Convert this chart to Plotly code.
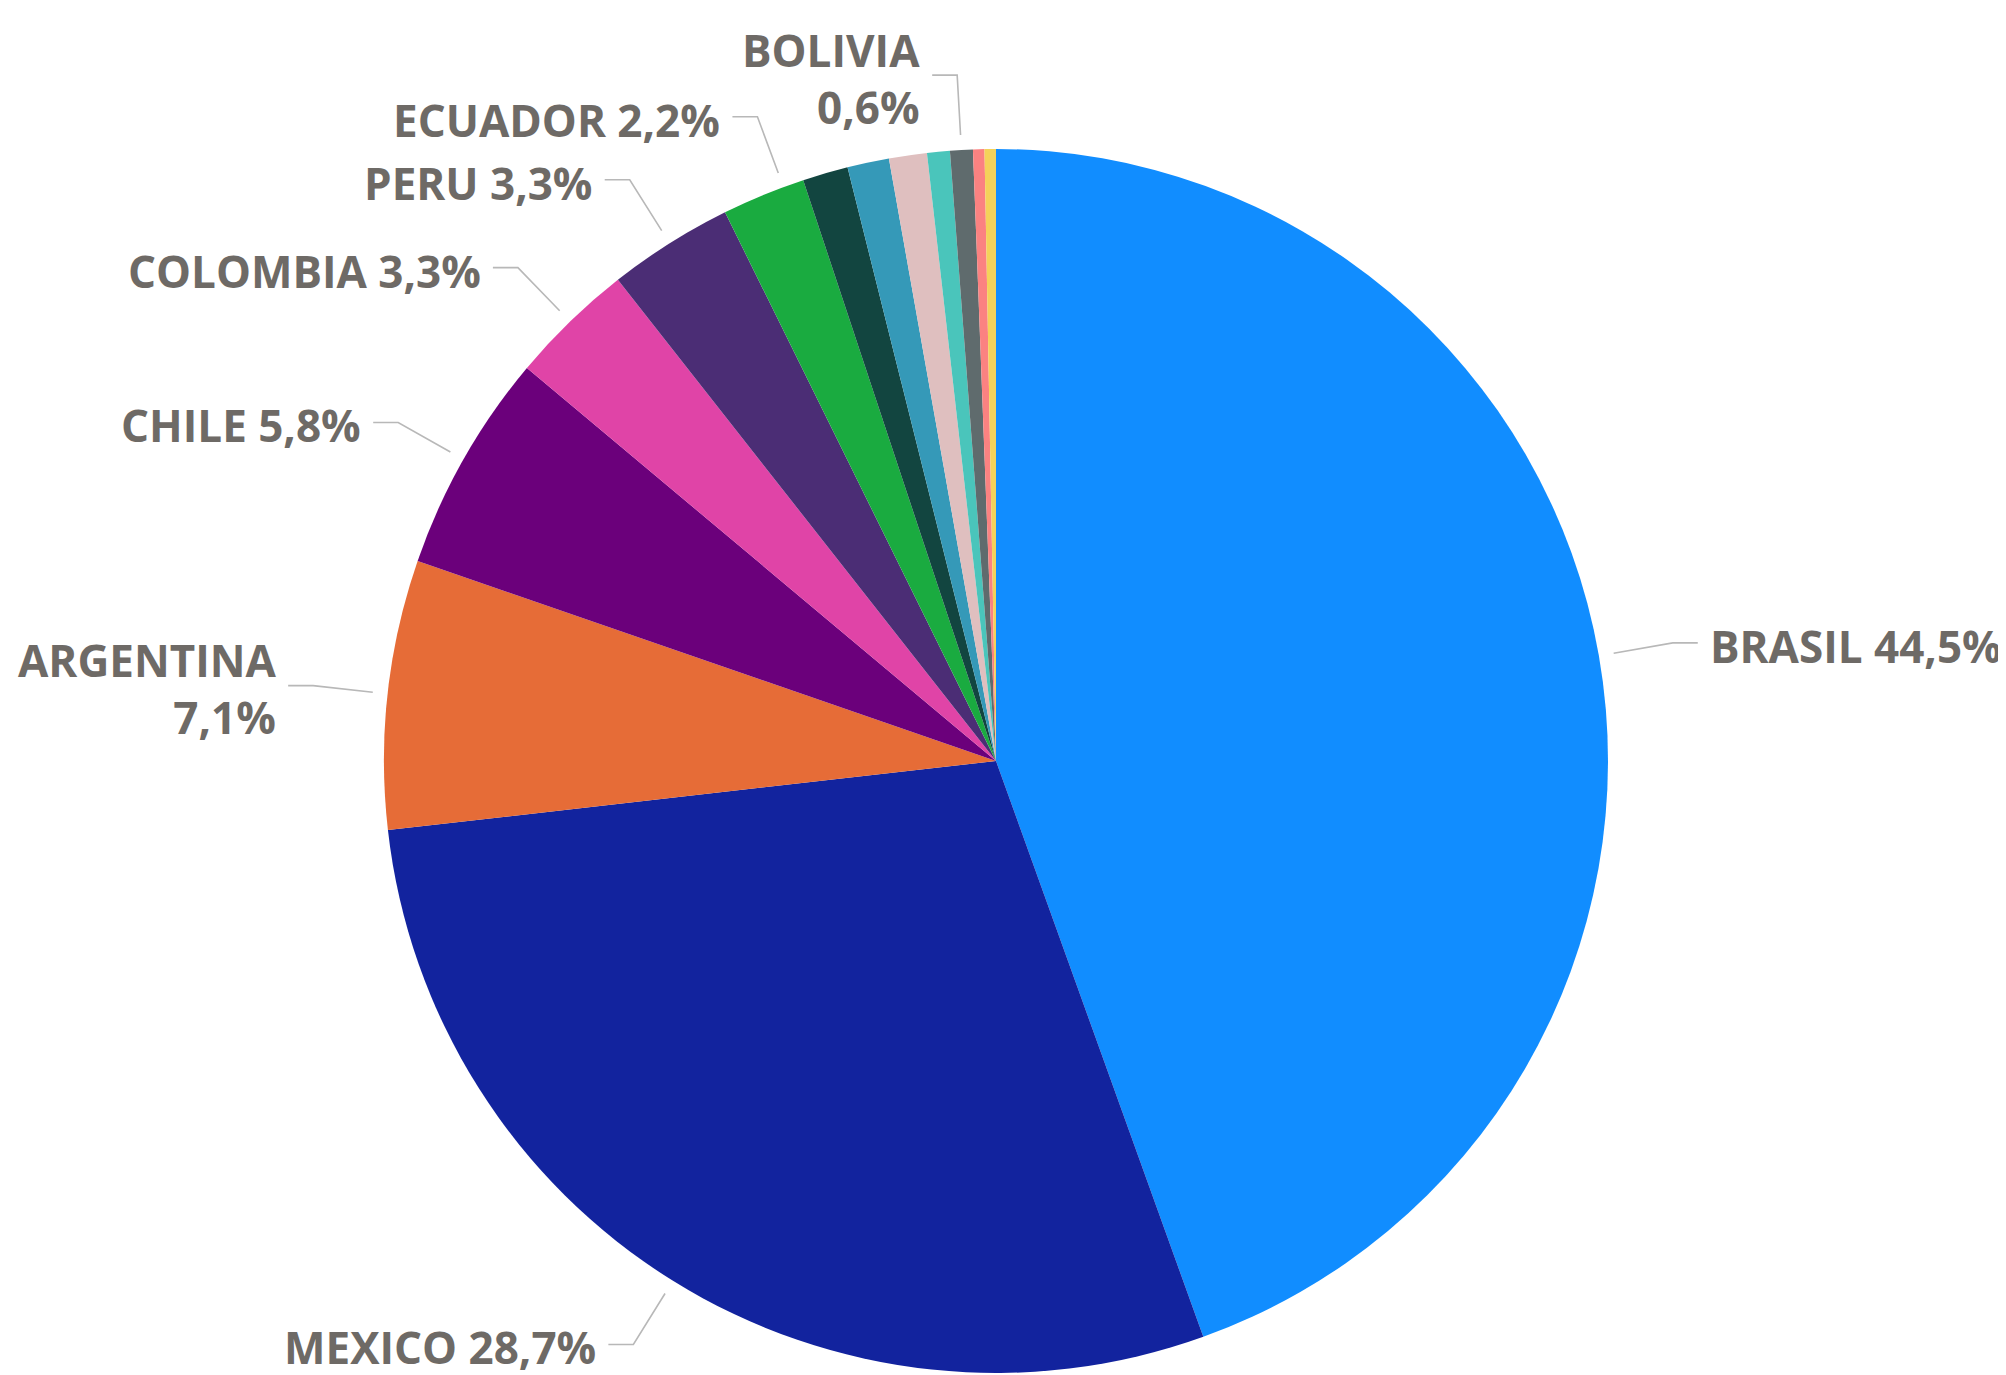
import math
import plotly.graph_objects as go

# Market share by country (%), clockwise from 12 o'clock
COUNTRIES = ['BRASIL', 'MEXICO', 'ARGENTINA', 'CHILE', 'COLOMBIA', 'PERU', 'ECUADOR',
             'URUGUAY', 'PANAMA', 'COSTA RICA', 'PARAGUAY', 'BOLIVIA', 'GUATEMALA', 'OTROS']
SHARE = [44.5, 28.7, 7.1, 5.8, 3.3, 3.3, 2.2, 1.2, 1.1, 1.0, 0.6, 0.6, 0.3, 0.3]
LABELED = ['BRASIL', 'MEXICO', 'ARGENTINA', 'CHILE', 'COLOMBIA', 'PERU', 'ECUADOR', 'BOLIVIA']
TWO_LINE = ['ARGENTINA', 'BOLIVIA']

COLORS = ['#118DFF', '#12239E', '#E66C37', '#6B007B', '#E044A7', '#4B2D75', '#1AAB40',
          '#124540', '#3599B8', '#DFBFBF', '#4AC5BB', '#5F6B6D', '#FB8281', '#F4D25A']

TEXT_COLOR = '#6E6A66'
LINE_COLOR = '#B8B8B8'

# ── canvas geometry (page pixels) ──
W, H = 2006, 1375
PAGE_OFFSET = 8                  # default body margin of the html page
CX, CY, R = 996, 761, 612
ANGLE_NUDGE = {'ECUADOR': 2.0}   # label collision shift, degrees


def px(x):
    return (x - PAGE_OFFSET) / W


def py(y):
    return 1 - (y - PAGE_OFFSET) / H


def fmt(v):
    return f"{v:.1f}".replace('.', ',') + '%'


fig = go.Figure(go.Pie(
    labels=COUNTRIES, values=SHARE, sort=False, direction='clockwise', rotation=0,
    marker=dict(colors=COLORS, line=dict(width=0)),
    textinfo='none', hoverinfo='label+percent', showlegend=False,
    domain=dict(x=[px(CX - R), px(CX + R)], y=[py(CY + R), py(CY - R)]),
))

shapes, annotations = [], []
total = sum(SHARE)
cum = 0.0
for name, v in zip(COUNTRIES, SHARE):
    mid = (cum + v / 2) / total * 360 + ANGLE_NUDGE.get(name, 0.0)
    cum += v
    if name not in LABELED:
        continue
    s, c = math.sin(math.radians(mid)), math.cos(math.radians(mid))
    x0, y0 = CX + (R + 15) * s, CY - (R + 15) * c
    x1, y1 = CX + (R + 75) * s, CY - (R + 75) * c
    side = 1 if s > 0 else -1
    x2 = x1 + side * 25
    shapes.append(dict(
        type='path', xref='paper', yref='paper',
        path=f"M {px(x0)},{py(y0)} L {px(x1)},{py(y1)} L {px(x2)},{py(y1)}",
        line=dict(color=LINE_COLOR, width=1.6),
    ))
    sep = '<br>' if name in TWO_LINE else ' '
    annotations.append(dict(
        x=px(x2 + side * 10), y=py(y1 + 3), xref='paper', yref='paper',
        text=f"{name}{sep}{fmt(v)}", showarrow=False,
        xanchor='left' if side > 0 else 'right', yanchor='middle',
        align='left' if side > 0 else 'right',
        font=dict(family='Open Sans', size=44, color=TEXT_COLOR, weight=700),
    ))

fig.update_layout(
    width=W, height=H,
    margin=dict(l=0, r=0, t=0, b=0),
    paper_bgcolor='white', plot_bgcolor='white',
    shapes=shapes, annotations=annotations,
)

fig.write_html("out.html")
